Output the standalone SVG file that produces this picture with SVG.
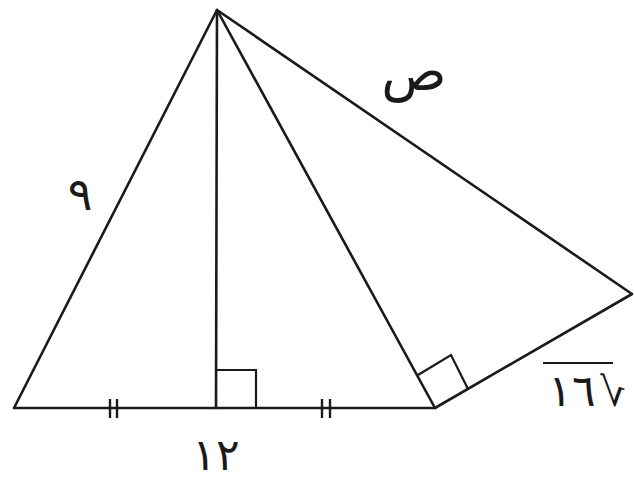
<svg xmlns="http://www.w3.org/2000/svg" width="634" height="479" viewBox="0 0 634 479">
<style>
.ln{stroke:#1a1a1a;stroke-width:2.6;fill:none;stroke-linecap:round;stroke-linejoin:round}
.mk{stroke:#1a1a1a;stroke-width:2.2;fill:none}
.tk{stroke:#1a1a1a;stroke-width:2.4}
.lb{font-family:"DejaVu Sans","Noto Sans",sans-serif;fill:#1a1a1a}
</style>
<rect width="634" height="479" fill="#fff"/>
<g id="connectors">
<polyline class="ln" points="217,10 14,408 435,408 632,294 217,10"/>
<line class="ln" x1="217" y1="10" x2="216" y2="408"/>
<line class="ln" x1="217" y1="10" x2="435" y2="408"/>
</g>
<g id="right-angle-foot"><polyline class="mk" points="216,370 256,370 256,408"/></g>
<g id="right-angle-right"><polyline class="mk" points="418,375 451,355 468,389"/></g>
<g id="ticks-left"><line class="tk" x1="110" y1="399" x2="110" y2="418"/><line class="tk" x1="117" y1="399" x2="117" y2="418"/></g>
<g id="ticks-right"><line class="tk" x1="322" y1="399" x2="322" y2="418"/><line class="tk" x1="330" y1="399" x2="330" y2="418"/></g>
<g id="label-9"><text class="lb" x="80" y="210" font-size="46" text-anchor="middle">٩</text></g>
<g id="label-s"><text class="lb" x="414" y="90" font-size="54" text-anchor="middle">ص</text></g>
<g id="label-12"><text class="lb" x="216" y="470" font-size="44" text-anchor="middle">١٢</text></g>
<g id="label-root16">
<line class="mk" x1="543" y1="363" x2="613" y2="363"/>
<text class="lb" x="572" y="406" font-size="44" text-anchor="middle" letter-spacing="-4">١٦</text>
<text class="lb" x="-613" y="406" font-size="40" text-anchor="middle" transform="scale(-1,1)">√</text>
</g>
</svg>
